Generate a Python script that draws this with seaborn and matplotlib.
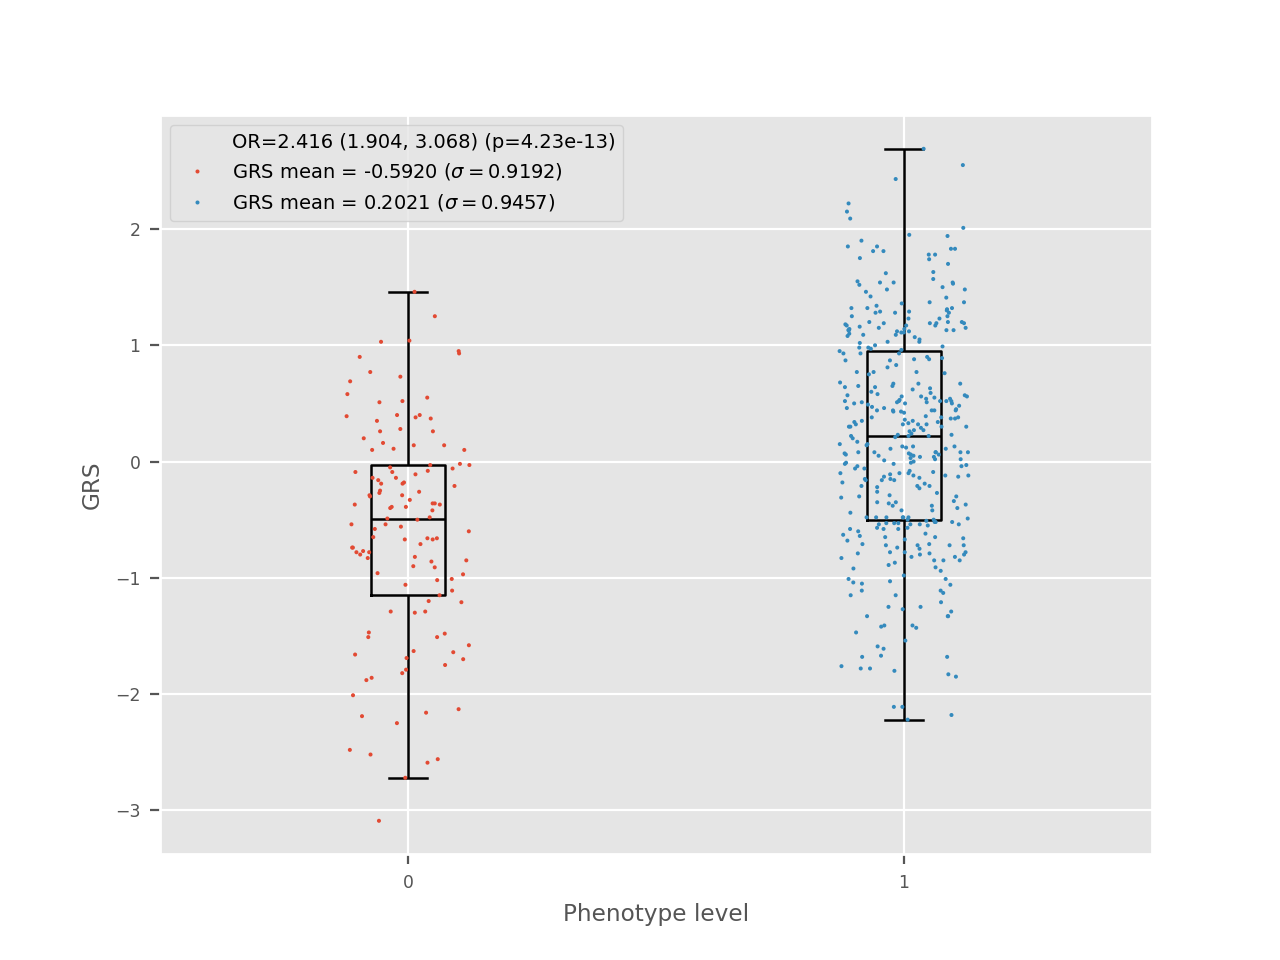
import matplotlib
matplotlib.use("Agg")
import matplotlib.pyplot as plt
from matplotlib.lines import Line2D
import seaborn as sns
import numpy as np
import pandas as pd

# GRS values, phenotype level 0
grs_level0 = [
    1.46, 1.25, 1.03, 1.04, 0.95, 0.93, 0.90, 0.77, 0.69, 0.73,
    0.58, 0.52, 0.55, 0.51, 0.37, 0.40, 0.39, 0.38, 0.35, 0.40,
    0.26, 0.26, 0.28, 0.20, 0.14, 0.14, 0.16, 0.10, 0.11, 0.10,
    -0.03, -0.03, -0.02,
    -0.06, -0.09, -0.09, -0.08, -0.11, -0.05, -0.14, -0.14, -0.18, -0.16,
    -0.19, -0.19, -0.21, -0.26, -0.25, -0.27, -0.29, -0.30, -0.29, -0.33,
    -0.37, -0.39, -0.40, -0.36, -0.37, -0.36, -0.42, -0.39, -0.48, -0.49,
    -0.50, -0.54, -0.56, -0.54, -0.58, -0.60, -0.65, -0.67, -0.66, -0.66,
    -0.67, -0.71, -0.74, -0.74, -0.78, -0.77, -0.78, -0.80, -0.82, -0.83,
    -0.85, -0.86, -0.90, -0.91, -0.96, -0.97, -1.01, -1.02, -1.06, -1.11,
    -1.15, -1.20, -1.21, -1.29, -1.29, -1.30, -1.47, -1.51, -1.51, -1.48,
    -1.58, -1.64, -1.63,
    -1.66, -1.69, -1.70, -1.75, -1.79, -1.82, -1.86, -1.88, -2.01, -2.13,
    -2.16, -2.19, -2.25, -2.48, -2.52, -2.56, -2.59, -2.72, -3.09,
]

# GRS values, phenotype level 1
grs_level1 = [
    2.69, 2.55, 2.43, 2.22, 2.15, 2.09, 2.01, 1.95, 1.94, 1.90,
    1.81, 1.78, 1.83, 1.81, 1.85, 1.83, 1.85, 1.78, 1.75, 1.74,
    1.70, 1.63, 1.62, 1.57, 1.55, 1.54, 1.54, 1.54, 1.52, 1.53,
    1.50, 1.48, 1.48, 1.46, 1.42, 1.41, 1.37, 1.37, 1.36, 1.34,
    1.31, 1.32, 1.32, 1.32, 1.30, 1.28, 1.29, 1.28, 1.28, 1.29,
    1.25, 1.25, 1.23, 1.23, 1.20, 1.19, 1.19, 1.19, 1.20, 1.19,
    1.20, 1.18, 1.17, 1.17, 1.15, 1.17, 1.16, 1.15, 1.14, 1.13,
    1.13, 1.11, 1.08, 1.13, 1.12, 1.13, 1.14, 1.12, 1.10, 1.09,
    1.09, 1.11, 1.07, 1.05, 1.03, 1.03, 1.02, 1.00, 0.99, 0.98,
    0.98, 0.97, 0.96, 0.95, 0.93, 0.93, 0.93, 0.90, 0.89, 0.88,
    0.88, 0.87, 0.87, 0.83, 0.81, 0.77, 0.77, 0.75, 0.76, 0.77,
    0.65, 0.67, 0.64, 0.65, 0.63, 0.62, 0.67, 0.64, 0.67, 0.68,
    0.60, 0.59, 0.57, 0.58, 0.56, 0.57, 0.56, 0.55, 0.56, 0.53,
    0.54, 0.51, 0.52, 0.52, 0.52, 0.51, 0.51, 0.54, 0.52, 0.52,
    0.50, 0.50, 0.50, 0.48, 0.49, 0.47, 0.45, 0.46, 0.46, 0.44,
    0.44, 0.44, 0.43, 0.42, 0.43, 0.44, 0.44, 0.39, 0.38, 0.37,
    0.38, 0.38, 0.37, 0.36, 0.35, 0.34, 0.34, 0.35, 0.33, 0.32,
    0.30, 0.32, 0.32, 0.32, 0.30, 0.30, 0.30, 0.29, 0.27, 0.27,
    0.26, 0.24, 0.23, 0.23, 0.22, 0.22, 0.22, 0.21, 0.20, 0.17,
    0.15, 0.14, 0.15, 0.12, 0.13, 0.11, 0.13, 0.13, 0.11, 0.08,
    0.06, 0.04, 0.08, 0.08, 0.06, 0.08, 0.07, 0.08, 0.06, 0.05,
    0.02, 0.07, 0.08, 0.05, 0.04, 0.03, 0.02, 0.01, -0.00, -0.01,
    -0.01, -0.02, -0.03, -0.04, -0.04, -0.02, -0.06, -0.06, -0.09, -0.08,
    -0.10, -0.10, -0.10, -0.11, -0.12, -0.12, -0.12, -0.15, -0.13, -0.16,
    -0.14, -0.16, -0.16, -0.13, -0.15, -0.18, -0.19, -0.21, -0.21, -0.23,
    -0.21, -0.22,
    -0.26, -0.27, -0.29, -0.30, -0.30, -0.31, -0.34, -0.35, -0.36, -0.37,
    -0.35, -0.38, -0.38, -0.40, -0.42, -0.42, -0.44, -0.48, -0.48, -0.48,
    -0.48, -0.48, -0.48, -0.50, -0.51, -0.52, -0.50, -0.53, -0.53, -0.52,
    -0.53, -0.52, -0.49, -0.54, -0.54, -0.54, -0.54, -0.55, -0.57, -0.58,
    -0.58, -0.58, -0.57, -0.60, -0.62, -0.66, -0.64, -0.63, -0.65, -0.65,
    -0.67, -0.68, -0.71, -0.71, -0.72, -0.72, -0.72, -0.72, -0.75, -0.74,
    -0.78, -0.78, -0.78, -0.80, -0.79, -0.79, -0.80, -0.82, -0.82, -0.83,
    -0.85, -0.85, -0.85, -0.87, -0.89, -0.91, -0.92, -0.94, -0.98, -1.01,
    -1.01, -1.03, -1.04, -1.05, -1.06, -1.11, -1.11, -1.13, -1.15, -1.15,
    -1.21,
    -1.27, -1.29, -1.25, -1.25, -1.33, -1.33, -1.33, -1.41, -1.42, -1.41,
    -1.43, -1.47, -1.54, -1.59, -1.61, -1.67, -1.68, -1.68, -1.78, -1.78,
    -1.76, -1.80, -1.83, -1.85, -2.11, -2.11, -2.18, -2.22,
]

levels = [0, 1]
level_colors = ["#E24A33", "#348ABD"]
legend_labels = [
    "OR=2.416 (1.904, 3.068) (p=4.23e-13)",
    r"GRS mean = -0.5920 ($\sigma = 0.9192$)",
    r"GRS mean = 0.2021 ($\sigma = 0.9457$)",
]

df = pd.DataFrame({
    "level": [0] * len(grs_level0) + [1] * len(grs_level1),
    "grs": grs_level0 + grs_level1,
})

plt.style.use("ggplot")
plt.rcParams.update({
    "font.size": 7,
    "axes.labelsize": 8.4,
    "xtick.labelsize": 6.2,
    "ytick.labelsize": 6.2,
})
np.random.seed(3)

fig, ax = plt.subplots(figsize=(6.4, 4.8), dpi=200)

sns.stripplot(
    data=df, x="level", y="grs", hue="level", order=levels,
    palette=level_colors, jitter=0.13, size=1.45, linewidth=0,
    legend=False, ax=ax,
)
sns.boxplot(
    data=df, x="level", y="grs", order=levels, width=0.15, fill=False,
    color="black", linewidth=0.9, showfliers=False, ax=ax,
)

ax.xaxis.grid(True)
ax.set_xlim(-0.5, 1.5)
ax.set_xlabel("Phenotype level")
ax.set_ylabel("GRS")

handles = [Line2D([], [], linestyle="none")]
for c in level_colors:
    handles.append(Line2D([], [], linestyle="none", marker="o", markersize=1.45,
                          markerfacecolor=c, markeredgewidth=0))
ax.legend(handles, legend_labels, loc="upper left")

fig.savefig("out.png", dpi=200)
